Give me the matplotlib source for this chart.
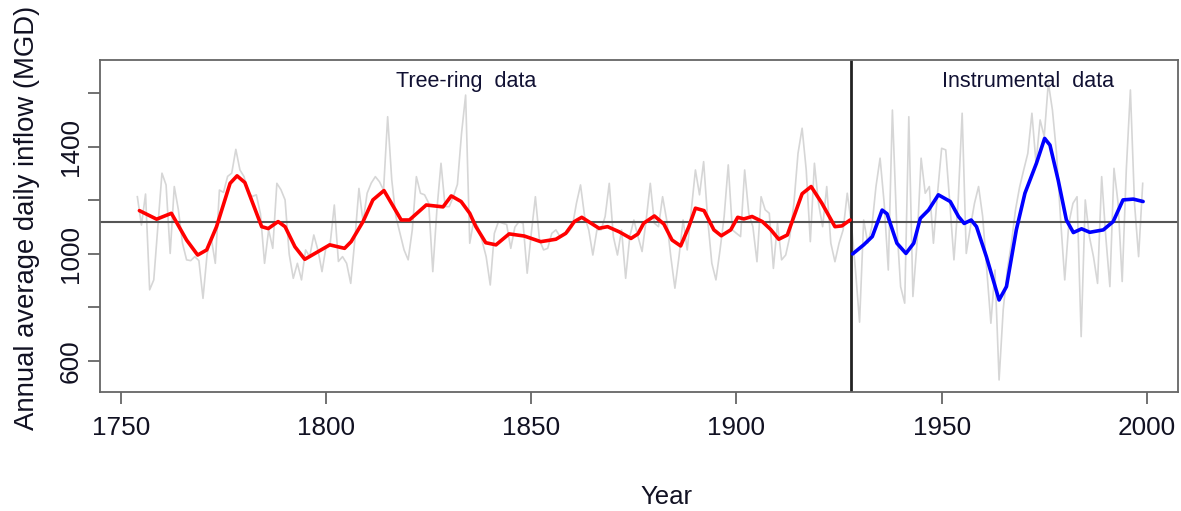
import numpy as np
import matplotlib
matplotlib.use("Agg")
from matplotlib import pyplot as plt

# annual inflow, 1754-1999 (tree-ring reconstruction up to 1927, gauged after)
first_year = 1754
inflow = [
    1214, 1108, 1224, 866, 903, 1100,
    1302, 1258, 1002, 1252, 1165, 1040, 978, 975, 990, 975,
    834, 1000, 1060, 965, 1239, 1230, 1290, 1302, 1391, 1314,
    1289, 1230, 1215, 1221, 1150, 965, 1090, 1021, 1264, 1240,
    1202, 1000, 909, 965, 903, 1015, 990, 1071, 1015, 934,
    1028, 1040, 1183, 972, 990, 965, 890, 1052, 1245, 1120,
    1227, 1265, 1289, 1270, 1239, 1513, 1277, 1140, 1077, 1015,
    978, 1090, 1289, 1227, 1221, 1190, 934, 1165, 1339, 1177,
    1177, 1214, 1260, 1450, 1594, 1040, 1127, 1102, 1050, 990,
    884, 1077, 1121, 1115, 1110, 1021, 1100, 1121, 1115, 928,
    1077, 1214, 1052, 1015, 1021, 1077, 1090, 1065, 1077, 1080,
    1102, 1189, 1258, 1140, 1090, 996, 1090, 1090, 1140, 1264,
    1065, 996, 1090, 909, 1065, 1127, 1065, 1009, 1127, 1264,
    1115, 1102, 1214, 1127, 990, 872, 990, 1127, 1015, 1165,
    1314, 1221, 1345, 1127, 965, 903, 1015, 1140, 1333, 1090,
    1077, 1065, 1314, 1152, 1102, 971, 1214, 1165, 1152, 946,
    1115, 978, 996, 1065, 1189, 1376, 1470, 1314, 1046, 1339,
    1189, 1102, 1252, 1040, 971, 1040, 1090, 1227, 1115, 940,
    745, 1127, 1040, 1102, 1252, 1358, 1189, 940, 1538, 1127,
    878, 816, 1513, 841, 1040, 1358, 1227, 1252, 1040, 1227,
    1395, 1389, 1189, 978, 1189, 1526, 1002, 1100, 1189, 1252,
    1140, 940, 741, 940, 529, 791, 940, 1040, 1165, 1250,
    1314, 1376, 1526, 1339, 1501, 1439, 1640, 1538, 1376, 1127,
    903, 1115, 1189, 1214, 691, 1202, 1065, 990, 890, 1289,
    1065, 878, 1320, 1189, 897, 1314, 1613, 1189, 990, 1264,
]
years = np.arange(first_year, first_year + len(inflow))

# smoothed tree-ring series
tree_years = [1754.5, 1758.7, 1762.3, 1766.0, 1768.7, 1770.9, 1773.3, 1776.6,
              1778.3, 1780.2, 1784.3, 1785.9, 1788.3, 1790.0, 1792.4, 1794.8,
              1800.9, 1804.5, 1806.1, 1809.0, 1811.4, 1814.1, 1818.3, 1820.3,
              1824.4, 1828.5, 1830.5, 1832.9, 1835.0, 1836.5, 1838.9, 1841.4,
              1844.6, 1848.3, 1852.3, 1856.0, 1858.4, 1860.5, 1862.3, 1866.5,
              1868.6, 1871.4, 1874.3, 1876.0, 1877.4, 1880.0, 1882.3, 1884.3,
              1886.4, 1888.4, 1890.0, 1892.1, 1894.5, 1896.3, 1898.6, 1900.3,
              1901.8, 1903.8, 1906.3, 1908.3, 1910.3, 1912.4, 1914.0, 1916.0,
              1918.2, 1920.8, 1924.0, 1925.7, 1927.7]
tree_smooth = [1162, 1130, 1152, 1052, 996, 1015, 1102, 1264,
               1292, 1267, 1102, 1095, 1121, 1102, 1027, 980,
               1034, 1021, 1046, 1121, 1202, 1237, 1127, 1127,
               1183, 1176, 1217, 1196, 1152, 1102, 1042, 1034,
               1075, 1067, 1046, 1055, 1077, 1121, 1137, 1096,
               1102, 1083, 1058, 1075, 1115, 1142, 1112, 1052,
               1030, 1102, 1171, 1162, 1090, 1068, 1090, 1137,
               1131, 1140, 1121, 1092, 1055, 1071, 1140, 1225,
               1252, 1190, 1102, 1105, 1127]

# smoothed instrumental series
gauge_years = [1928.3, 1931.0, 1933.1, 1935.5, 1936.7, 1939.1, 1941.3, 1943.2,
               1944.8, 1946.8, 1949.2, 1952.1, 1954.1, 1955.5, 1957.2, 1958.5,
               1960.9, 1964.0, 1965.8, 1968.2, 1970.3, 1973.1, 1975.1, 1976.4,
               1978.4, 1980.4, 1982.1, 1984.1, 1986.1, 1989.4, 1991.8, 1994.2,
               1996.7, 1999.1]
gauge_smooth = [1000, 1034, 1065, 1164, 1150, 1040, 1002, 1040,
                1133, 1164, 1221, 1196, 1140, 1114, 1127, 1102,
                990, 828, 878, 1090, 1227, 1339, 1432, 1407,
                1276, 1127, 1080, 1094, 1081, 1090, 1121, 1202,
                1205, 1196]

mean_flow = 1121
split_year = 1928

plt.rcParams['font.family'] = ['Liberation Sans', 'DejaVu Sans']

fig = plt.figure(figsize=(11.81, 5.11), dpi=100)
ax = fig.add_axes([100 / 1181, 1 - 392 / 511, 1078 / 1181, 332 / 511])

ax.plot(years, inflow, color='#d6d6d6', lw=1.2, zorder=1)
ax.axhline(mean_flow, color='#555555', lw=1.5, zorder=2)
ax.axvline(split_year, color='#222222', lw=2, zorder=2)
ax.plot(tree_years, tree_smooth, color='#ff0000', lw=2.6, zorder=3,
        solid_capstyle='round', solid_joinstyle='round')
ax.plot(gauge_years, gauge_smooth, color='#0000ff', lw=2.6, zorder=3,
        solid_capstyle='round', solid_joinstyle='round')

ax.text(1834, 1643, 'Tree-ring  data', ha='center', va='center',
        fontsize=15.5, color='#111133')
ax.text(1971, 1643, 'Instrumental  data', ha='center', va='center',
        fontsize=15.5, color='#111133')

ax.set_xlim(1744.9, 2007.6)
ax.set_ylim(484, 1725)

ax.set_xticks([1750, 1800, 1850, 1900, 1950, 2000])
ax.set_yticks([600, 800, 1000, 1200, 1400, 1600])
ax.set_yticklabels(['600', '', '1000', '', '1400', ''])
ax.tick_params(axis='both', direction='out', length=8.6, width=1.3,
               color='#666666', labelsize=18.8, labelcolor='#111122')
ax.tick_params(axis='x', pad=9)
ax.tick_params(axis='y', pad=4)
for lab in ax.get_yticklabels():
    lab.set_rotation(90)
    lab.set_va('center')

for side in ax.spines.values():
    side.set_color('#666666')
    side.set_linewidth(1.3)

ax.set_xlabel('Year', fontsize=18.5, color='#111122')
ax.xaxis.set_label_coords((666 - 100) / 1078, (392 - 497) / 332)
ax.xaxis.label.set_va('center')
ax.set_ylabel('Annual average daily inflow (MGD)', fontsize=19.8, color='#111122')
ax.yaxis.set_label_coords((27 - 100) / 1078, (392 - 218) / 332)
ax.yaxis.label.set_va('center')

fig.savefig('out.png', dpi=100)
